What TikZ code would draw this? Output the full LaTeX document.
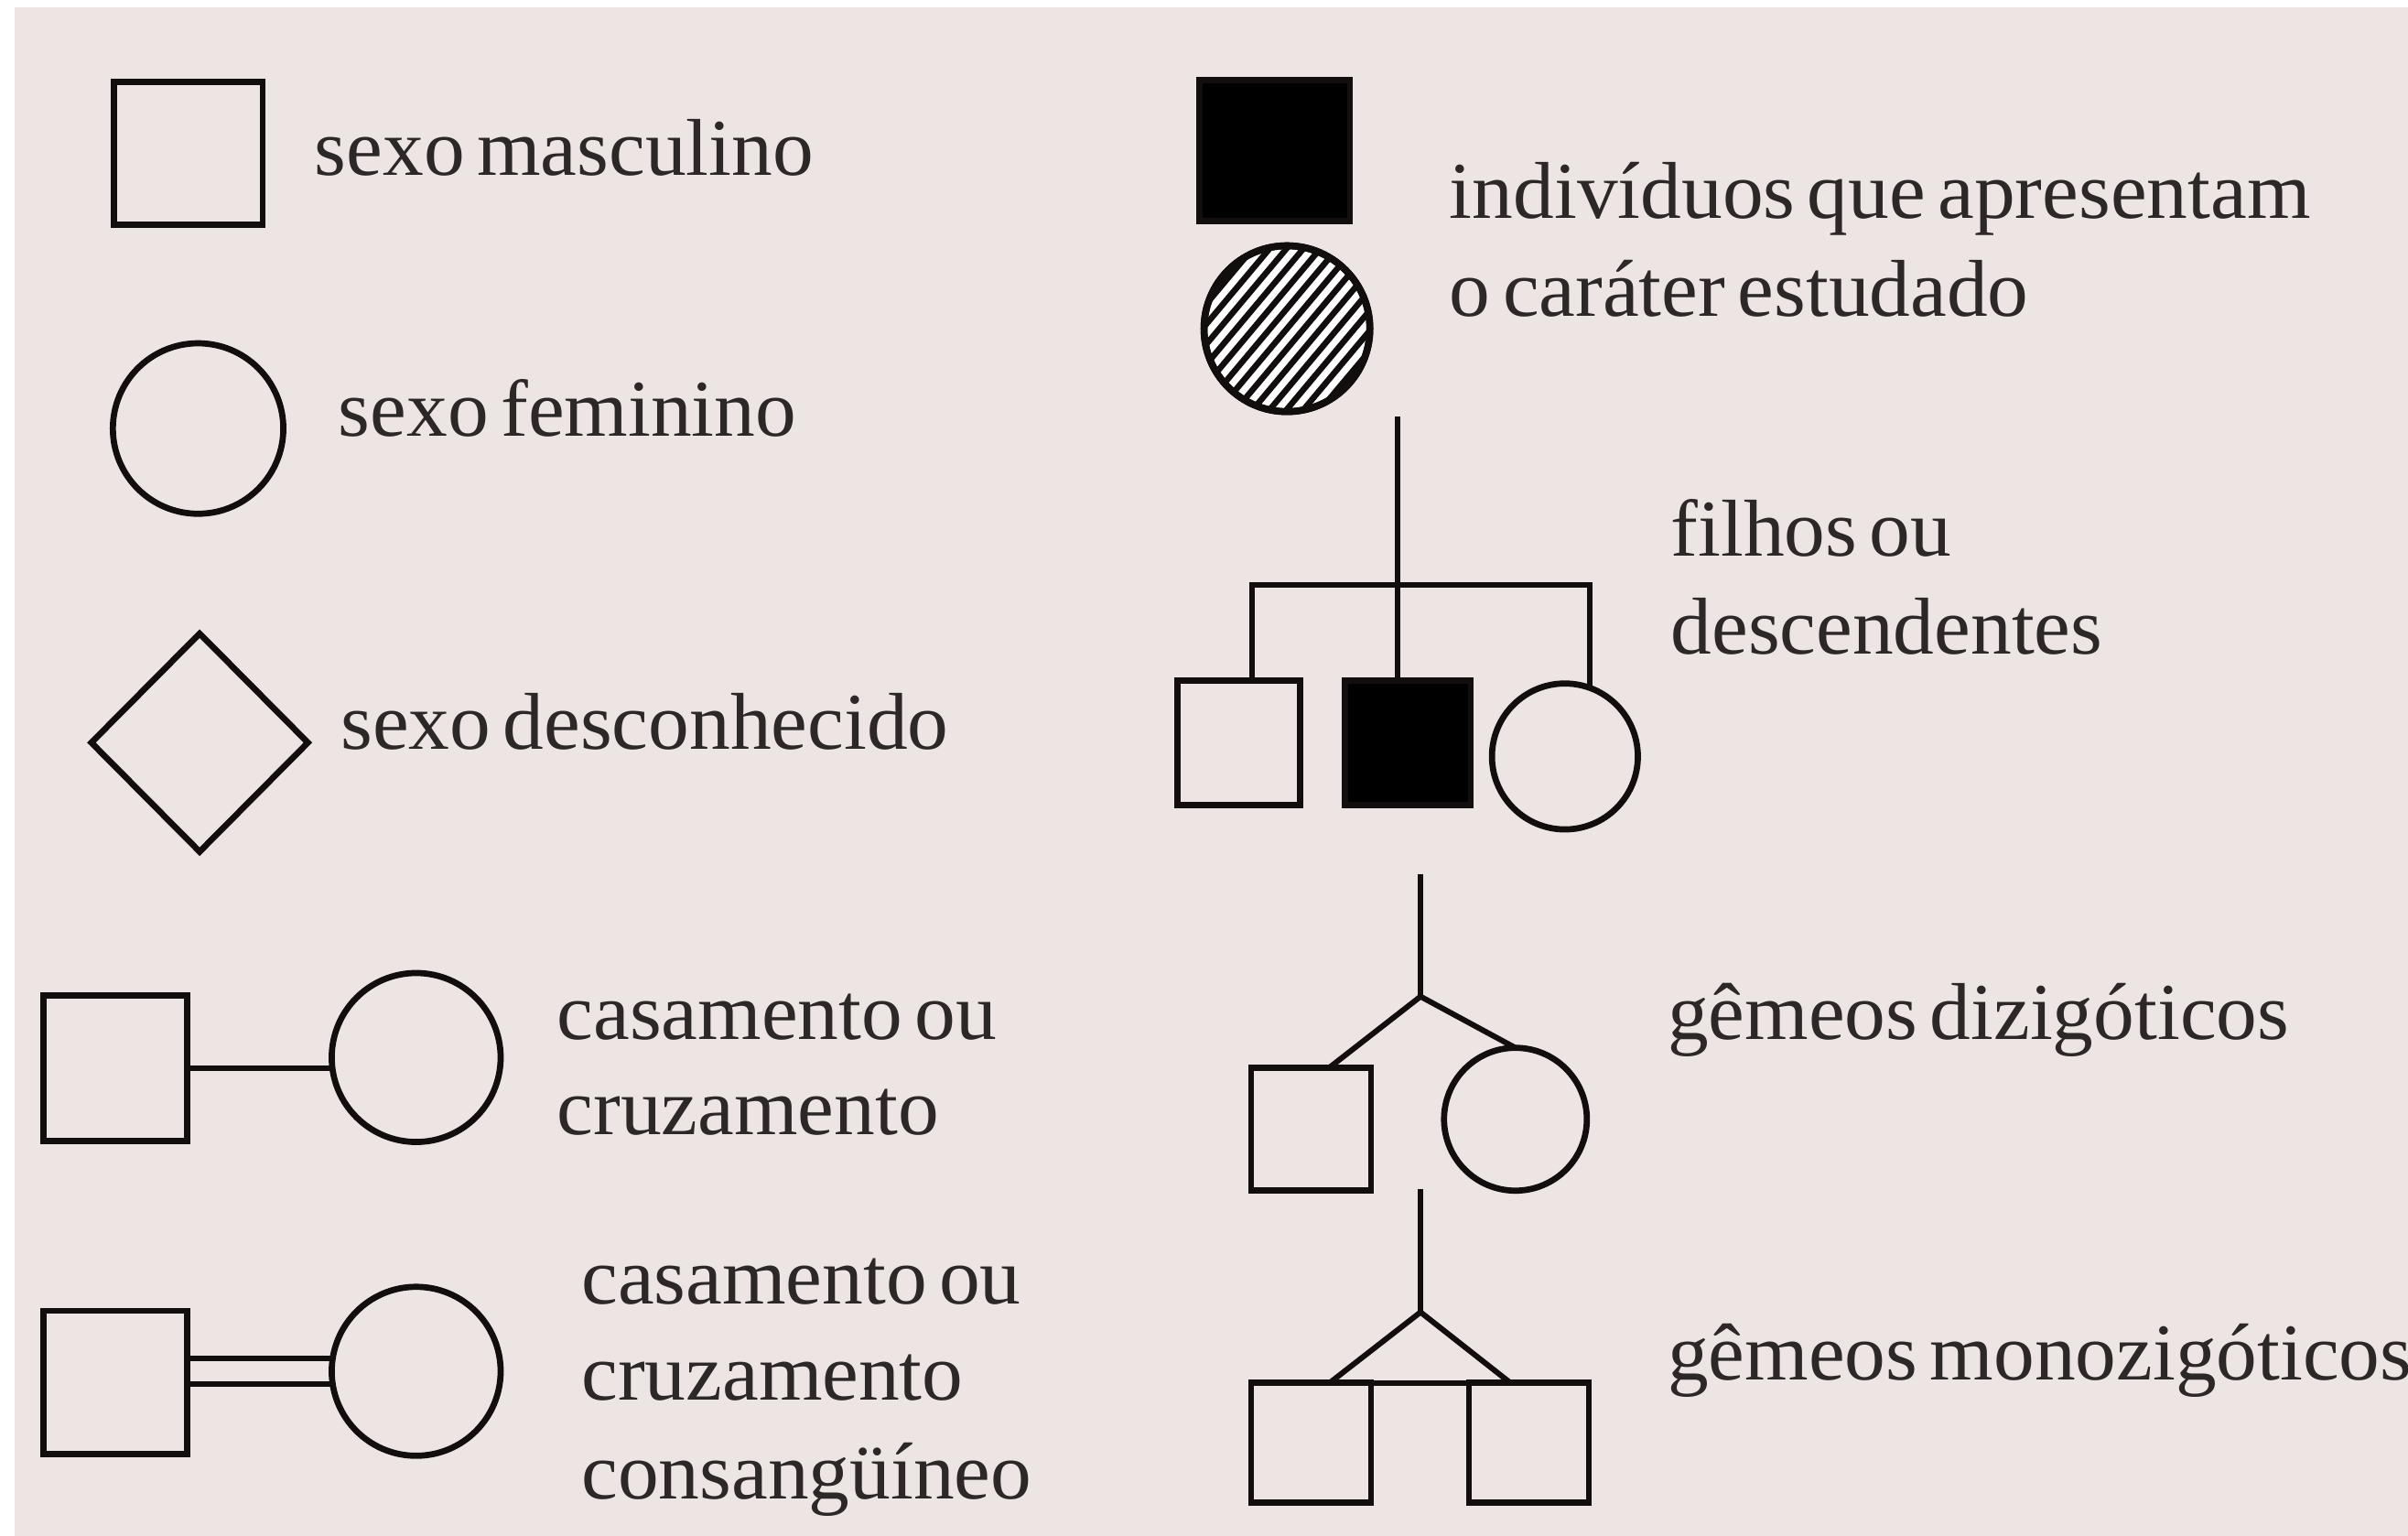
\documentclass[tikz,border=0pt]{standalone}
\usepackage{fontspec}
\setmainfont{Liberation Serif}[WordSpace=0.6, FakeStretch=1.015]
\usetikzlibrary{shapes.geometric,calc}
\definecolor{bg}{RGB}{237,229,227}
\definecolor{ink}{RGB}{18,14,14}
\definecolor{txt}{RGB}{45,40,40}
\tikzset{
  shp/.style={draw=ink, line width=4pt, inner sep=0pt, outer sep=0pt},
  bigsq/.style={shp, rectangle, minimum width=97pt, minimum height=93pt},
  bigcirc/.style={shp, circle, minimum size=111pt},
  smsq/.style={shp, rectangle, minimum width=80pt, minimum height=80pt},
  smcirc/.style={shp, circle, minimum size=94pt},
  link/.style={draw=ink, line width=3.6pt},
  lbl/.style={anchor=base west, inner sep=0pt, outer sep=0pt, text=txt, font=\fontsize{52.5}{63}\selectfont},
}
\begin{document}
\begin{tikzpicture}[x=1pt, y=-1pt]
\useasboundingbox (0,0) rectangle (1568,1000);
\fill[white] (0,0) rectangle (1568,1000);
\fill[bg] (9.5,4.5) rectangle (1568,1000);

% ---------- left column ----------
\node[bigsq] (male) at (122.5,100) {};
\node[lbl] (tmale) at (205,114) {sexo masculino};

\node[bigcirc] (female) at (129,279) {};
\node[lbl] (tfemale) at (220.5,284) {sexo feminino};

\node[shp, diamond, shape aspect=1, minimum width=141pt, minimum height=142pt] (unk) at (130,483.5) {};
\node[lbl] (tunk) at (222,487.6) {sexo desconhecido};

% marriage
\node[shp, rectangle, minimum width=93.5pt, minimum height=95pt] (msq) at (75.25,695.5) {};
\node[bigcirc, minimum size=110pt] (mcirc) at (271,688.5) {};
\draw[link] (msq.east) -- (msq.east -| mcirc.west);
\node[lbl] (tm1) at (362.8,677) {casamento ou};
\node[lbl] (tm2) at (362.8,738.6) {cruzamento};

% consanguineous marriage
\node[shp, rectangle, minimum width=93.5pt, minimum height=93pt] (csq) at (75.25,900) {};
\node[bigcirc, minimum size=110pt] (ccirc) at (271,892.8) {};
\coordinate (cu) at ($(ccirc.west)+(0,-8.3)$);
\coordinate (cd) at ($(ccirc.west)+(0,8.3)$);
\draw[link, line width=3.6pt] (cu -| csq.east) -- (cu);
\draw[link, line width=3.6pt] (cd -| csq.east) -- (cd);
\node[lbl] (tc1) at (378.7,849.2) {casamento ou};
\node[lbl] (tc2) at (378.7,911.8) {cruzamento};
\node[lbl] (tc3) at (378.7,975.9) {consangüíneo};

% ---------- right column ----------
\node[bigsq, fill=black, minimum width=98pt, minimum height=92pt] (aff) at (830,98) {};
\node[shp, circle, minimum size=108pt, fill=white, line width=4.5pt] (hc) at (838,214) {};
\begin{scope}
  \clip (hc.center) circle[radius=54pt];
  \foreach \k in {-9,...,9}
    \draw[ink, line width=3.9pt] ($(hc.center)+(\k*11,0)+(-51.4,61.3)$) -- ++(102.8,-122.6);
\end{scope}
\node[shp, circle, minimum size=108pt, line width=4.5pt] at (hc.center) {};
\node[lbl] (ta1) at (944,142.3) {indivíduos que apresentam};
\node[lbl] (ta2) at (944,205.7) {o caráter estudado};

% offspring
\node[smsq, minimum width=80pt, minimum height=81pt] (o1) at (806.6,483.5) {};
\node[smsq, fill=black, minimum width=82pt, minimum height=81pt] (o2) at (916.7,483.5) {};
\node[smcirc, minimum size=95pt] (o3) at (1019,492.5) {};
\coordinate (ftop) at (910,271);
\coordinate (fbl) at (815,381);
\coordinate (fbr) at (1035,381);
\draw[link] (ftop) -- (ftop |- o2.north);
\draw[link, line join=miter] (fbl |- o1.north) -- (fbl) -- (fbr) -- ($(fbr |- o3.north)+(0,3)$);
\node[lbl] (tf1) at (1088,361.8) {filhos ou};
\node[lbl] (tf2) at (1088,425.8) {descendentes};

% dizygotic twins
\node[smsq, minimum width=78pt, minimum height=80pt] (d1) at (853.7,735) {};
\node[smcirc, minimum size=93pt] (d2) at (986.8,728.7) {};
\coordinate (dtop) at (925,569);
\coordinate (dapex) at (925,648.8);
\draw[link] (dtop) -- (dapex);
\draw[link] ($(d1.north)+(12,0)$) -- (dapex) -- (d2.north);
\node[lbl] (td) at (1086,676.8) {gêmeos dizigóticos};

% monozygotic twins
\node[smsq, minimum width=78pt, minimum height=78pt] (m1) at (853.7,939.4) {};
\node[smsq, minimum width=78pt, minimum height=78pt] (m2) at (995.6,939.4) {};
\coordinate (mtop) at (925,774.4);
\coordinate (mapex) at (925,854.3);
\draw[link] (mtop) -- (mapex);
\draw[link] ($(m1.north)+(12,0)$) -- (mapex) -- ($(m2.north)+(-12,0)$);
\draw[link] (m1.north east) -- (m2.north west);
\node[lbl] (tmz) at (1086,898.7) {gêmeos monozigóticos};
\end{tikzpicture}
\end{document}
